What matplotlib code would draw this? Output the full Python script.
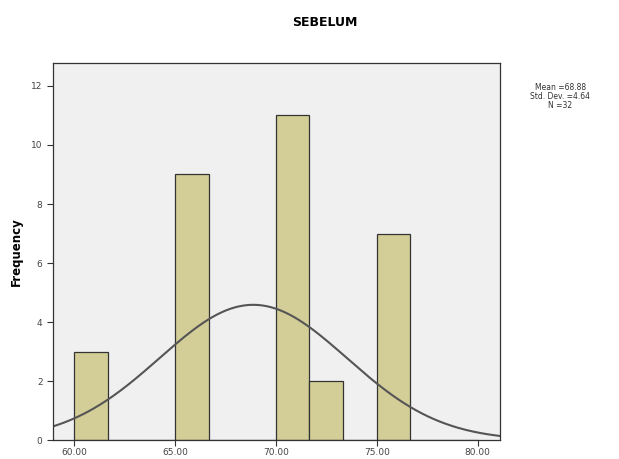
import numpy as np
import matplotlib.pyplot as plt

# bin edges and counts
bin_start = 60.0
bin_width = 5.0 / 3
counts = [3, 0, 0, 9, 0, 0, 11, 2, 0, 7, 0, 0]
mean = 68.88
std = 4.64
n = 32
x_ticks = [60, 65, 70, 75, 80]
y_ticks = [0, 2, 4, 6, 8, 10, 12]

edges = bin_start + bin_width * np.arange(len(counts) + 1)

fig = plt.figure(figsize=(6.19, 4.59), dpi=100)
ax = fig.add_axes([0.0856, 0.041, 0.722, 0.822])
ax.set_facecolor('#f0f0f0')

ax.bar(edges[:-1], counts, width=bin_width, align='edge',
       color='#d3ce97', edgecolor='#333333', linewidth=0.9)

xs = np.linspace(58.96, 81.1, 300)
ys = n * bin_width / (std * np.sqrt(2 * np.pi)) * np.exp(-0.5 * ((xs - mean) / std) ** 2)
ax.plot(xs, ys, color='#555555', linewidth=1.5)

ax.set_xlim(58.96, 81.1)
ax.set_ylim(0, 12.78)
ax.set_xticks(x_ticks)
ax.set_xticklabels(['%.2f' % v for v in x_ticks], fontsize=6.5, color='#444444')
ax.set_yticks(y_ticks)
ax.set_yticklabels([str(v) for v in y_ticks], fontsize=6.5, color='#444444')
ax.tick_params(length=4, color='#333333')
ax.tick_params(axis='x', pad=1.5)
for s in ax.spines.values():
    s.set_color('#333333')
    s.set_linewidth(0.9)

ax.set_ylabel('Frequency', fontsize=8.5, fontweight='bold', labelpad=6)
fig.text(0.525, 0.952, 'SEBELUM', ha='center', va='center', fontsize=9, fontweight='bold')
fig.text(0.905, 0.79, 'Mean =%.2f\nStd. Dev. =%.2f\nN =%d' % (mean, std, n),
         ha='center', va='center', fontsize=5.5, color='#333333', linespacing=1.0)

fig.savefig('out.png', dpi=100)
